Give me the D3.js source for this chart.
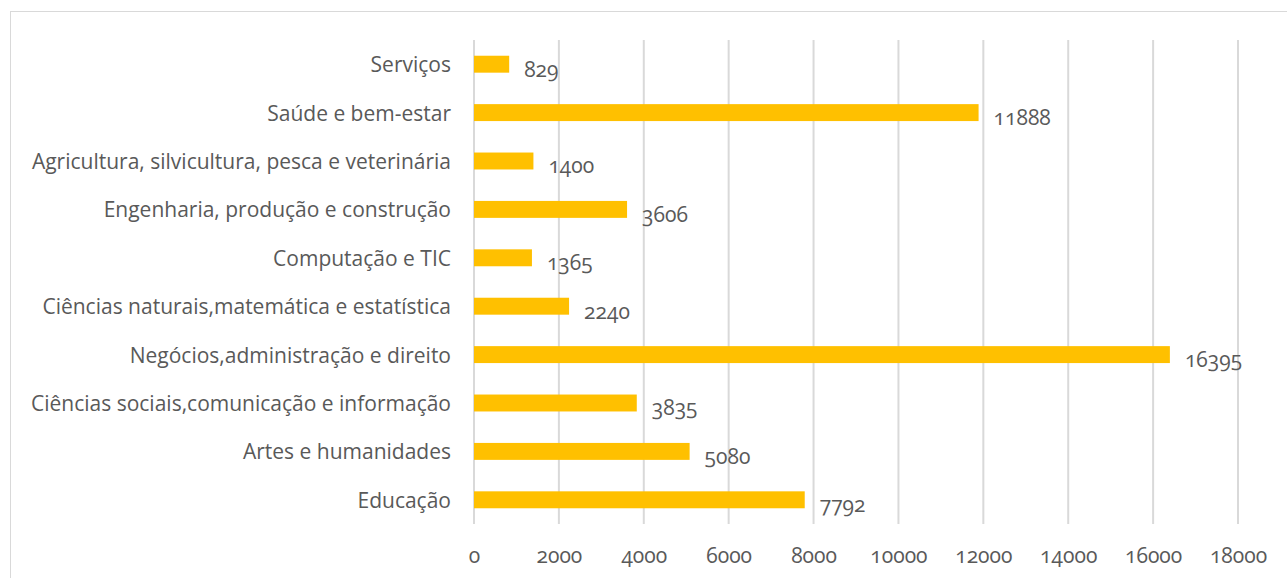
<!DOCTYPE html>
<html>
<head>
<meta charset="utf-8">
<script src="https://cdn.jsdelivr.net/npm/d3@7/dist/d3.min.js"></script>
<style>
  html, body { margin: 0; padding: 0; background: #fff; }
  svg { display: block; }
  text { font-family: "Open Sans", Lato, sans-serif; fill: #595959; font-feature-settings: "onum" 1; font-variant-numeric: oldstyle-nums; }
</style>
</head>
<body>
<svg id="chart" width="1287" height="578"></svg>
<script>
// Enrolments by field of study
const categories = [
  "Serviços",
  "Saúde e bem-estar",
  "Agricultura, silvicultura, pesca e veterinária",
  "Engenharia, produção e construção",
  "Computação e TIC",
  "Ciências naturais,matemática e estatística",
  "Negócios,administração e direito",
  "Ciências sociais,comunicação e informação",
  "Artes e humanidades",
  "Educação"
];
const values = [829, 11888, 1400, 3606, 1365, 2240, 16395, 3835, 5080, 7792];
const xTicks = [0, 2000, 4000, 6000, 8000, 10000, 12000, 14000, 16000, 18000];

const svg = d3.select("#chart");
const W = 1287, H = 578;
const plot = { left: 474, right: 1238, top: 40, bottom: 524 };
const FS = 21;

// chart frame
svg.append("rect")
  .attr("x", 10.5).attr("y", 11.5)
  .attr("width", W + 20).attr("height", H + 20)
  .attr("fill", "none").attr("stroke", "#d9d9d9").attr("stroke-width", 1);

const x = d3.scaleLinear().domain([0, 18000]).range([plot.left, plot.right]);
const y = d3.scaleBand().domain(categories).range([plot.top, plot.bottom]).paddingInner(0.65).paddingOuter(0.325);

// vertical gridlines
svg.append("g").selectAll("line").data(xTicks).join("line")
  .attr("x1", d => x(d)).attr("x2", d => x(d))
  .attr("y1", plot.top).attr("y2", plot.bottom)
  .attr("stroke", "#d9d9d9").attr("stroke-width", 2);

// x-axis tick labels
const xAxis = d3.axisBottom(x).tickValues(xTicks).tickSize(0).tickPadding(0).tickFormat(d3.format("d"));
const gx = svg.append("g").attr("transform", `translate(0,${plot.bottom + 24})`).call(xAxis);
gx.select(".domain").remove();
gx.selectAll("text").attr("font-size", FS).attr("fill", "#595959");

// category labels
const yAxis = d3.axisLeft(y).tickSize(0).tickPadding(0);
const gy = svg.append("g").attr("transform", `translate(${plot.left - 23},1.3)`).call(yAxis);
gy.select(".domain").remove();
gy.selectAll("text").attr("font-size", FS).attr("fill", "#595959");
svg.selectAll("g").attr("font-family", null).attr("font-size", null);

// bars
svg.append("g").selectAll("rect").data(values).join("rect")
  .attr("x", x(0))
  .attr("y", (d, i) => y(categories[i]))
  .attr("width", d => x(d) - x(0))
  .attr("height", y.bandwidth())
  .attr("fill", "#FFC000");

// value labels
svg.append("g").selectAll("text").data(values).join("text")
  .attr("x", d => x(d) + 15)
  .attr("y", (d, i) => y(categories[i]) + y.bandwidth() / 2 + 5)
  .attr("dy", "0.35em")
  .attr("font-size", FS)
  .text(d => d);
</script>
</body>
</html>
